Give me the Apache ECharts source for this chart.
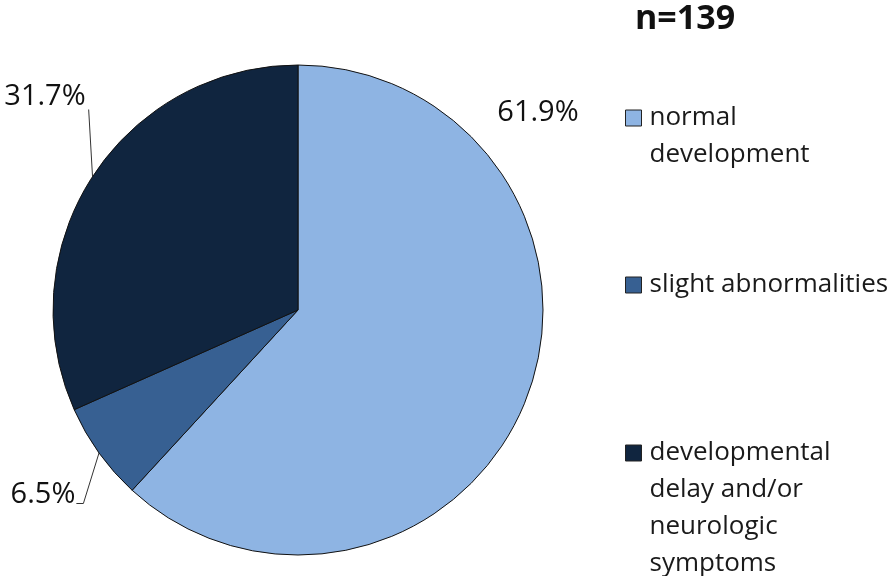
<!DOCTYPE html>
<html>
<head>
<meta charset="utf-8">
<script src="https://cdn.jsdelivr.net/npm/echarts@6/dist/echarts.min.js"></script>
<style>
html,body{margin:0;padding:0;background:#fff;}
#c{width:890px;height:576px;}
</style>
</head>
<body>
<div id="c"></div>
<script>
const categories = ['normal\ndevelopment', 'slight abnormalities', 'developmental\ndelay and/or\nneurologic\nsymptoms'];
const percentValues = [61.9, 6.5, 31.7];
const sliceColors = ['#8EB4E3', '#376092', '#10253F'];
const titleText = 'n=139';

const FONT = '"Open Sans", "Noto Sans", sans-serif';
const LINE = 37;
const ICON = 16;

// label placements (layout only)
const labelPos = [
  { x: 538, y: 113, line: false },
  { x: 43, y: 495, line: true, hook: 'right' },
  { x: 45, y: 97, line: true, hook: 'below' }
];

const chart = echarts.init(document.getElementById('c'), null, { renderer: 'canvas' });

const legendTops = [99.5, 266.5, 434.5];
const legends = categories.map((name, i) => {
  const n = name.split('\n').length;
  const h = (n - 1) * LINE + ICON;
  return {
    show: true,
    orient: 'vertical',
    left: 625,
    top: legendTops[i],
    padding: 0,
    data: [name],
    itemWidth: ICON,
    itemHeight: h,
    itemGap: 0,
    icon: 'path://M0,0L' + ICON + ',0L' + ICON + ',' + ICON + 'L0,' + ICON + 'Z M0,' + h + 'L0,' + h,
    selectedMode: false,
    textStyle: {
      fontFamily: FONT,
      fontSize: 26,
      color: '#1a1a1a',
      lineHeight: LINE,
      padding: [0, 0, 0, 3]
    },
    itemStyle: { borderColor: '#222', borderWidth: 1 }
  };
});

chart.setOption({
  animation: false,
  title: {
    text: titleText,
    left: 635,
    top: 2,
    padding: 0,
    textStyle: { fontFamily: FONT, fontWeight: 'bold', fontSize: 34, color: '#111' }
  },
  legend: legends,
  series: [{
    type: 'pie',
    center: [298, 310],
    radius: 245,
    startAngle: 90,
    clockwise: true,
    avoidLabelOverlap: false,
    itemStyle: { borderColor: '#111', borderWidth: 1 },
    label: {
      show: true,
      position: 'outside',
      formatter: p => p.value.toFixed(1) + '%',
      fontFamily: FONT,
      fontSize: 29,
      color: '#111'
    },
    labelLine: { show: true, lineStyle: { color: '#333', width: 1 } },
    emphasis: { disabled: true },
    labelLayout: function (params) {
      const lp = labelPos[params.dataIndex];
      const r = params.labelRect;
      const out = { x: lp.x, y: lp.y, align: 'center', verticalAlign: 'middle' };
      if (lp.line && params.labelLinePoints) {
        const start = params.labelLinePoints[0];
        const halfW = r.width / 2, halfH = r.height / 2;
        if (lp.hook === 'right') {
          const ex = lp.x + halfW + 1;
          const ey = lp.y + halfH - 6;
          out.labelLinePoints = [start, [ex + 7, ey], [ex, ey]];
        } else {
          const ex = lp.x + halfW + 3;
          const ey = lp.y + halfH - 2;
          out.labelLinePoints = [start, [ex, ey], [ex, ey]];
        }
      }
      return out;
    },
    data: categories.map((name, i) => ({
      name: name,
      value: percentValues[i],
      itemStyle: { color: sliceColors[i] },
      labelLine: { show: labelPos[i].line }
    }))
  }]
});
</script>
</body>
</html>
